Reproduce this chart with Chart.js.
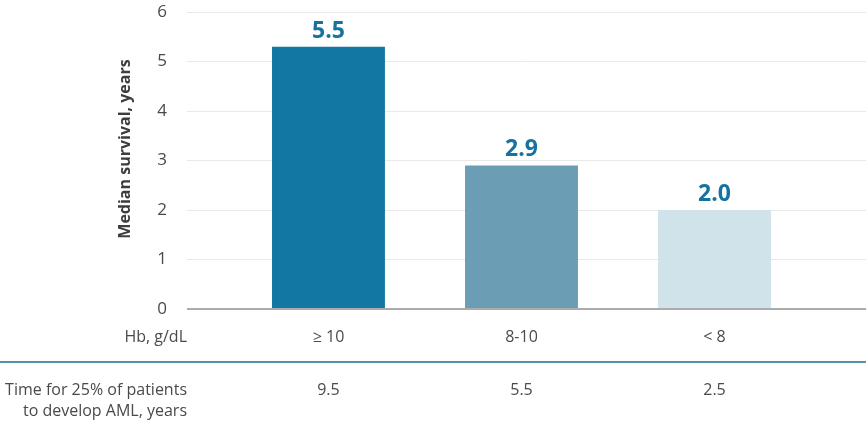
<!DOCTYPE html>
<html>
<head>
<meta charset="utf-8">
<script src="https://cdn.jsdelivr.net/npm/chart.js@4"></script>
<style>
  html, body { margin: 0; padding: 0; background: #fff; }
  #wrap { width: 866px; height: 425px; position: relative; }
</style>
</head>
<body>
<div id="wrap"><canvas id="c" width="866" height="425"></canvas></div>
<script>
// ---- data ----
const categories = ['≥ 10', '8-10', '< 8'];
const survivalBars = [5.3, 2.9, 2.0];          // bar heights as drawn
const survivalLabels = ['5.5', '2.9', '2.0'];  // printed value labels
const amlTimes = ['9.5', '5.5', '2.5'];
const yTicks = [0, 1, 2, 3, 4, 5, 6];
const xRowLabel = 'Hb, g/dL';
const tableRowLabel = ['Time for 25% of patients', 'to develop AML, years'];
const yTitle = 'Median survival, years';
const barColors = ['#1277a2', '#6b9db5', '#d0e2ea'];

const FONT = "'Open Sans', 'Noto Sans', sans-serif";
const TEXT = '#4a4a4a';

const extras = {
  id: 'extras',
  afterDatasetsDraw(chart) {
    const ctx = chart.ctx;
    const ys = chart.scales.y;
    const area = chart.chartArea;
    ctx.save();
    // zero line on top of bars
    const y0 = ys.getPixelForValue(0);
    ctx.strokeStyle = '#ababab';
    ctx.lineWidth = 2;
    ctx.beginPath();
    ctx.moveTo(area.left, y0);
    ctx.lineTo(area.right, y0);
    ctx.stroke();
    // value labels
    const meta = chart.getDatasetMeta(0);
    ctx.fillStyle = '#1673a0';
    ctx.font = "bold 23px " + FONT;
    ctx.textAlign = 'center';
    ctx.textBaseline = 'alphabetic';
    meta.data.forEach((bar, i) => {
      ctx.fillText(survivalLabels[i], bar.x, bar.y - 9);
    });
    ctx.restore();
  },
  afterDraw(chart) {
    const ctx = chart.ctx;
    const xs = chart.scales.x;
    const area = chart.chartArea;
    ctx.save();
    // y title
    ctx.save();
    ctx.translate(125, 149);
    ctx.rotate(-Math.PI / 2);
    ctx.font = "bold 16px " + FONT;
    ctx.fillStyle = '#3d3d3d';
    ctx.textAlign = 'center';
    ctx.textBaseline = 'middle';
    ctx.fillText(yTitle, 0, 0);
    ctx.restore();

    ctx.font = "16px " + FONT;
    ctx.fillStyle = TEXT;
    ctx.textBaseline = 'middle';
    // row label for categories
    ctx.textAlign = 'right';
    ctx.fillText(xRowLabel, area.left, 337);
    // separator line
    ctx.strokeStyle = '#1d6b8c';
    ctx.lineWidth = 1.3;
    ctx.beginPath();
    ctx.moveTo(0, 362);
    ctx.lineTo(chart.width, 362);
    ctx.stroke();
    // table row
    ctx.fillText(tableRowLabel[0], area.left, 390);
    ctx.fillText(tableRowLabel[1], area.left, 411);
    ctx.textAlign = 'center';
    amlTimes.forEach((t, i) => {
      ctx.fillText(t, xs.getPixelForValue(i), 390);
    });
    ctx.restore();
  }
};

new Chart(document.getElementById('c'), {
  type: 'bar',
  data: {
    datasets: [{
      data: survivalBars.map((v, i) => ({ x: i, y: v })),
      backgroundColor: barColors,
      borderWidth: 0,
      categoryPercentage: 0.585,
      barPercentage: 1
    }]
  },
  options: {
    responsive: false,
    animation: false,
    devicePixelRatio: 1,
    layout: { padding: { top: 12, left: 0, right: 0, bottom: 0 } },
    plugins: { legend: { display: false }, tooltip: { enabled: false } },
    scales: {
      x: {
        type: 'linear',
        min: -0.733,
        max: 2.785,
        offset: false,
        grid: { display: false, drawTicks: false },
        border: { display: false },
        afterBuildTicks(scale) { scale.ticks = categories.map((c, i) => ({ value: i })); },
        afterFit(scale) { scale.height = 116; scale.paddingLeft = 0; scale.paddingRight = 0; },
        ticks: {
          padding: 19,
          maxRotation: 0,
          autoSkip: false,
          color: TEXT,
          font: { family: FONT, size: 16 },
          callback: (v) => categories[v]
        }
      },
      y: {
        min: 0,
        max: 6,
        afterBuildTicks(scale) { scale.ticks = yTicks.map(v => ({ value: v })); },
        afterFit(scale) { scale.width = 187; scale.paddingTop = 0; scale.paddingBottom = 0; },
        grid: {
          drawTicks: false,
          color: '#ebe8ea',
          lineWidth: 1
        },
        border: { display: false },
        ticks: {
          padding: 20,
          color: TEXT,
          font: { family: FONT, size: 17 }
        },
        title: { display: false }
      }
    }
  },
  plugins: [extras]
});
</script>
</body>
</html>
